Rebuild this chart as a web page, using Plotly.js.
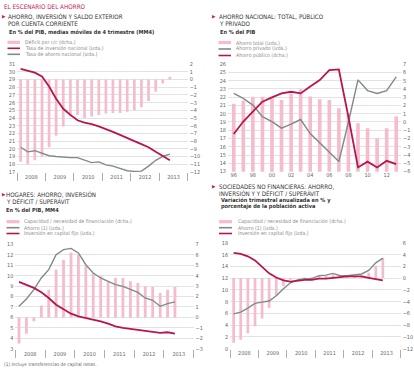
<!DOCTYPE html>
<html>
<head>
<meta charset="utf-8">
<script src="https://cdn.plot.ly/plotly-3.0.1.min.js"></script>
<style>html,body{margin:0;padding:0;background:#fff;}#chart{width:414px;height:370px;}</style>
</head>
<body>
<div id="chart"></div>
<script>
// ---------- DATA ----------
const quarters = ['2008-01-01','2008-04-01','2008-07-01','2008-10-01',
  '2009-01-01','2009-04-01','2009-07-01','2009-10-01',
  '2010-01-01','2010-04-01','2010-07-01','2010-10-01',
  '2011-01-01','2011-04-01','2011-07-01','2011-10-01',
  '2012-01-01','2012-04-01','2012-07-01','2012-10-01',
  '2013-01-01','2013-04-01'];

// Panel 1: Ahorro, inversión y saldo exterior por cuenta corriente
const p1Deficit   = [-10.7,-11.0,-10.5,-10.0,-8.8,-7.3,-6.1,-4.8,-4.6,-5.0,-4.8,-4.6,-4.4,-4.35,-4.35,-4.2,-4.0,-3.6,-2.8,-1.6,-0.5,0.35];
const p1Inversion = [30.4,30.2,29.9,29.4,28.1,26.5,25.2,24.4,23.7,23.4,23.2,22.9,22.6,22.2,21.8,21.35,21.0,20.6,20.2,19.6,19.1,18.5];
const p1Ahorro    = [20.2,19.6,19.75,19.4,19.1,19.0,18.9,18.85,18.85,18.5,18.2,18.3,17.9,17.75,17.45,17.15,17.05,17.1,17.75,18.5,19.0,19.3];

// Panel 2: Ahorro nacional: total, público y privado
const p2Years   = [1996,1997,1998,1999,2000,2001,2002,2003,2004,2005,2006,2007,2008,2009,2010,2011,2012,2013];
const p2Total   = [21.2,21.6,22.05,22.05,21.85,21.65,22.45,22.95,22.1,21.75,21.65,20.65,20.0,18.85,18.25,17.0,18.25,19.65];
const p2Privado = [22.45,21.85,21.05,19.65,19.05,18.25,18.75,19.3,17.6,16.5,15.3,14.2,19.0,24.1,22.8,22.45,22.8,24.45];
const p2Publico = [-1.45,0.05,1.25,2.45,2.98,3.46,3.66,3.46,4.3,5.07,6.28,6.36,0.6,-5.5,-4.8,-5.5,-4.7,-5.1];
const p2TickVals = [1996,1998,2000,2002,2004,2006,2008,2010,2012];
const p2TickText = ['96','98','00','02','04','06','08','10','12'];

// Panel 3: Hogares
const p3Cap       = [-2.5,-1.55,-0.37,1.13,2.65,4.57,5.52,6.2,6.0,4.9,4.25,3.93,3.45,3.77,3.77,3.45,3.3,2.97,2.9,2.34,2.65,2.9];
const p3Ahorro    = [7.06,7.76,8.66,9.77,10.57,12.0,12.48,12.6,12.16,11.04,10.25,9.77,9.45,9.13,8.97,8.66,8.4,7.86,7.64,7.06,7.32,7.48];
const p3Inversion = [9.39,9.13,8.82,8.4,7.86,7.22,6.75,6.36,6.1,5.95,5.79,5.63,5.4,5.15,5.0,4.9,4.83,4.74,4.58,4.52,4.58,4.45];

// Panel 4: Sociedades no financieras
const p4Cap       = [-11.0,-10.5,-9.4,-8.2,-6.9,-5.1,-3.0,-1.4,-0.3,0.0,0.1,0.2,0.4,0.5,0.6,0.3,0.2,0.3,0.4,0.9,2.1,3.4];
const p4Ahorro    = [5.9,6.2,6.9,7.7,7.9,8.1,9.0,10.2,11.2,11.7,11.9,11.9,12.4,12.5,12.8,12.4,12.4,12.5,12.7,13.3,14.6,15.4];
const p4Inversion = [16.3,16.1,15.7,15.0,13.9,12.8,12.1,11.6,11.4,11.6,11.7,11.7,11.9,11.9,12.05,12.2,12.3,12.3,12.3,12.05,11.8,11.6];

// ---------- STYLE ----------
const W = 414, H = 370;
const PINK = '#f4bccc', RED = '#b81550', GRAY = '#7f8b89', MAG = '#c2185b';
const FONT = '"Liberation Sans Narrow","DejaVu Sans Condensed","Liberation Sans",sans-serif';
const fx = p => p / W;
const fy = p => 1 - p / H;
const EPS = 0.02;

const qBar = (y, xa, ya) => ({type:'bar', x:quarters, y:y, xaxis:xa, yaxis:ya,
  xperiod:'M3', xperiodalignment:'middle', marker:{color:PINK}, hoverinfo:'skip'});
const qLine = (y, xa, ya, c, w) => ({type:'scatter', mode:'lines', x:quarters, y:y, xaxis:xa, yaxis:ya,
  xperiod:'M3', xperiodalignment:'middle', line:{color:c, width:w}, hoverinfo:'skip'});

const data = [
  qBar(p1Deficit, 'x', 'y'),
  qLine(p1Ahorro, 'x', 'y2', GRAY, 1.4),
  qLine(p1Inversion, 'x', 'y2', RED, 1.8),

  {type:'bar', x:p2Years, y:p2Total, xaxis:'x2', yaxis:'y3', marker:{color:PINK}, hoverinfo:'skip'},
  {type:'scatter', mode:'lines', x:p2Years, y:p2Privado, xaxis:'x2', yaxis:'y3', line:{color:GRAY, width:1.4}, hoverinfo:'skip'},
  {type:'scatter', mode:'lines', x:p2Years, y:p2Publico, xaxis:'x2', yaxis:'y4', line:{color:RED, width:1.8}, hoverinfo:'skip'},

  qBar(p3Cap, 'x3', 'y5'),
  qLine(p3Ahorro, 'x3', 'y6', GRAY, 1.4),
  qLine(p3Inversion, 'x3', 'y6', RED, 1.8),

  qBar(p4Cap, 'x4', 'y7'),
  qLine(p4Ahorro, 'x4', 'y8', GRAY, 1.4),
  qLine(p4Inversion, 'x4', 'y8', RED, 1.8)
];

const tickFont = {family:FONT, size:5.5, color:'#666'};
const dateX = (l, r, anchor) => ({
  type:'date', domain:[fx(l), fx(r)], anchor:anchor, automargin:false,
  range:['2008-01-01','2014-01-01'], dtick:'M12', tick0:'2008-01-01',
  tickformat:'%Y', ticklabelmode:'period', ticks:'outside', ticklen:8, tickwidth:0.8,
  tickcolor:'#999', ticklabelstandoff:-9, showgrid:false, zeroline:false, showline:false,
  tickfont:tickFont, fixedrange:true
});
const yAx = (top, bot, range, dtick, side, anchor, grid, overlay) => {
  const a = {range:[range[0]-EPS, range[1]+EPS], tick0:range[0], dtick:dtick, side:side, anchor:anchor, showgrid:grid,
    gridcolor:'#dcdcdc', gridwidth:0.8, zeroline:false, showline:false, ticks:'', automargin:false,
    tickfont:tickFont, ticklabelstandoff:1, fixedrange:true};
  if (overlay) a.overlaying = overlay; else a.domain = [fy(bot), fy(top)];
  return a;
};

const layout = {
  width:W, height:H, autosize:false, margin:{l:0,r:0,t:0,b:0},
  paper_bgcolor:'#fff', plot_bgcolor:'rgba(0,0,0,0)', showlegend:false,
  bargap:0.62, font:{family:FONT, color:'#444'},
  xaxis: dateX(17.1, 187.7, 'y'),
  yaxis: yAx(64, 172, [-12, 2], 1, 'right', 'x', true),
  yaxis2: yAx(64, 172, [17, 31], 1, 'left', 'x', false, 'y'),

  xaxis2: {domain:[fx(228), fx(401)], anchor:'y3', range:[1995.4, 2013.5], automargin:false,
    tickvals:p2TickVals, ticktext:p2TickText, ticks:'', showgrid:false, zeroline:false,
    tickfont:tickFont, ticklabelstandoff:-1, fixedrange:true},
  yaxis3: yAx(64, 171.7, [13, 26], 1, 'left', 'x2', true),
  yaxis4: yAx(64, 171.7, [-6, 7], 1, 'right', 'x2', false, 'y3'),

  xaxis3: dateX(15.3, 193.6, 'y5'),
  yaxis5: yAx(244, 349, [-3, 7], 1, 'right', 'x3', true),
  yaxis6: yAx(244, 349, [3, 13], 1, 'left', 'x3', false, 'y5'),

  xaxis4: dateX(230.1, 400.7, 'y7'),
  yaxis7: yAx(242.7, 348.7, [-12, 6], 2, 'right', 'x4', true),
  yaxis8: yAx(242.7, 348.7, [0, 18], 2, 'left', 'x4', false, 'y7'),
  annotations: [], shapes: []
};

// ---------- TEXT & LEGENDS ----------
function txt(t, x, y, size, color, extra) {
  layout.annotations.push(Object.assign({text:t, x:fx(x), y:fy(y), xref:'paper', yref:'paper',
    xanchor:'left', yanchor:'middle', showarrow:false, align:'left', borderpad:0,
    font:{family:FONT, size:size, color:color}}, extra || {}));
}
function tri(x, y) { txt('▶', x, y, 5, MAG, {font:{family:'DejaVu Sans', size:4.5, color:MAG}}); }
function swBar(x0, x1, y) {
  layout.shapes.push({type:'rect', xref:'paper', yref:'paper', x0:fx(x0), x1:fx(x1),
    y0:fy(y+1.6), y1:fy(y-1.6), fillcolor:PINK, line:{width:0}});
}
function swLine(x0, x1, y, c) {
  layout.shapes.push({type:'line', xref:'paper', yref:'paper', x0:fx(x0), x1:fx(x1),
    y0:fy(y), y1:fy(y), line:{color:c, width:1.6}});
}
const TT = '#333', LG = '#8a8a8a';
const TS = 6.2;

txt('EL ESCENARIO DEL AHORRO', 3, 6.5, 6.3, MAG);

// Panel 1
tri(0.5, 16.5);
txt('AHORRO, INVERSIÓN Y SALDO EXTERIOR', 7, 16.5, TS, TT);
txt('POR CUENTA CORRIENTE', 7, 23.3, TS, TT);
txt('<b>En % del PIB, medias móviles de 4 trimestre (MM4)</b>', 7.5, 32.3, 5.6, '#333');
swBar(7.5, 20, 42.3); txt('Déficit por c/c (dcha.)', 24, 42.3, 5.2, LG);
swLine(7.5, 20, 48.3, RED); txt('Tasa de inversión nacional (izda.)', 24, 48.3, 5.2, LG);
swLine(7.5, 20, 54.3, GRAY); txt('Tasa de ahorro nacional (izda.)', 24, 54.3, 5.2, LG);

// Panel 2
tri(211, 16.5);
txt('AHORRO NACIONAL: TOTAL, PÚBLICO', 218, 16.5, TS, TT);
txt('Y PRIVADO', 218, 23.5, TS, TT);
txt('<b>En % del PIB</b>', 218.5, 32, 5.6, '#333');
swBar(218.5, 231, 42.5); txt('Ahorro total (izda.)', 235, 42.5, 5.2, LG);
swLine(218.5, 231, 49, GRAY); txt('Ahorro privado (izda.)', 235, 49, 5.2, LG);
swLine(218.5, 231, 55.5, RED); txt('Ahorro público (dcha.)', 235, 55.5, 5.2, LG);

// Panel 3
tri(0.5, 194.8);
txt('HOGARES: AHORRO, INVERSIÓN', 5, 194.8, TS, TT);
txt('Y DÉFICIT / SUPERÁVIT', 5, 201.6, TS, TT);
txt('<b>En % del PIB, MM4</b>', 5, 209.5, 5.6, '#333');
swBar(6.5, 19.5, 221.7); txt('Capacidad / necesidad de financiación (dcha.)', 23.3, 221.7, 5.2, LG);
swLine(6.5, 19.5, 227.7, GRAY); txt('Ahorro (1) (izda.)', 23.3, 227.7, 5.2, LG);
swLine(6.5, 19.5, 233.5, RED); txt('Inversión en capital fijo (izda.)', 23.3, 233.5, 5.2, LG);
txt('(1) Incluye transferencias de capital netas.', 3, 364, 4.8, '#666');

// Panel 4
tri(211, 186.3);
txt('SOCIEDADES NO FINANCIERAS: AHORRO,', 218, 186.3, TS, TT);
txt('INVERSIÓN Y Y DÉFICIT / SUPERÁVIT', 218, 193.2, TS, TT);
txt('<b>Variación trimestral anualizada en % y</b>', 219.5, 200.5, 5.6, '#333');
txt('<b>porcentaje de la población activa</b>', 219.5, 206.9, 5.6, '#333');
swBar(219, 232, 221.7); txt('Capacidad / necesidad de financiación (dcha.)', 237, 221.7, 5.2, LG);
swLine(219, 232, 227.7, GRAY); txt('Ahorro (1) (izda.)', 237, 227.7, 5.2, LG);
swLine(219, 232, 233.5, RED); txt('Inversión en capital fijo (izda.)', 237, 233.5, 5.2, LG);

Plotly.newPlot('chart', data, layout, {staticPlot:true, displayModeBar:false});
</script>
</body>
</html>
